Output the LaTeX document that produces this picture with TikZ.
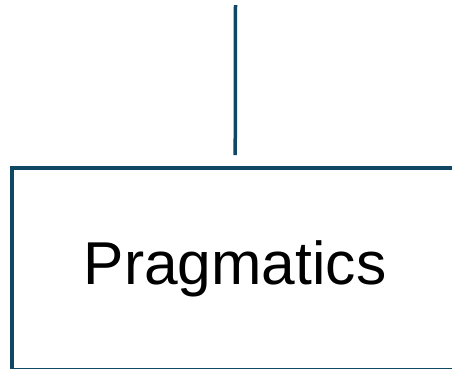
\documentclass[tikz,border=0pt]{standalone}
\usepackage{fontspec}
\setmainfont{Liberation Sans}
\usepackage{xcolor}
\usetikzlibrary{positioning, arrows.meta, calc}

\definecolor{linkblue}{RGB}{16,72,100}

\begin{document}
\begin{tikzpicture}[
    x=1pt, y=-1pt,
    topic/.style={draw=linkblue, rectangle, line width=4pt, minimum width=446pt, minimum height=201.5pt, align=center, inner sep=0pt, font=\fontsize{60.5}{62}\selectfont},
    link/.style={draw=linkblue, line width=3.5pt}
]
\useasboundingbox (0,0) rectangle (452,368);
\clip (0,0) rectangle (452,368);
\coordinate (parent) at (235.5,5);
\node[topic] (prag) at (235,268.75) {Pragmatics};

\draw [link, shorten >=11pt] (parent) -- (prag);
\end{tikzpicture}
\end{document}
